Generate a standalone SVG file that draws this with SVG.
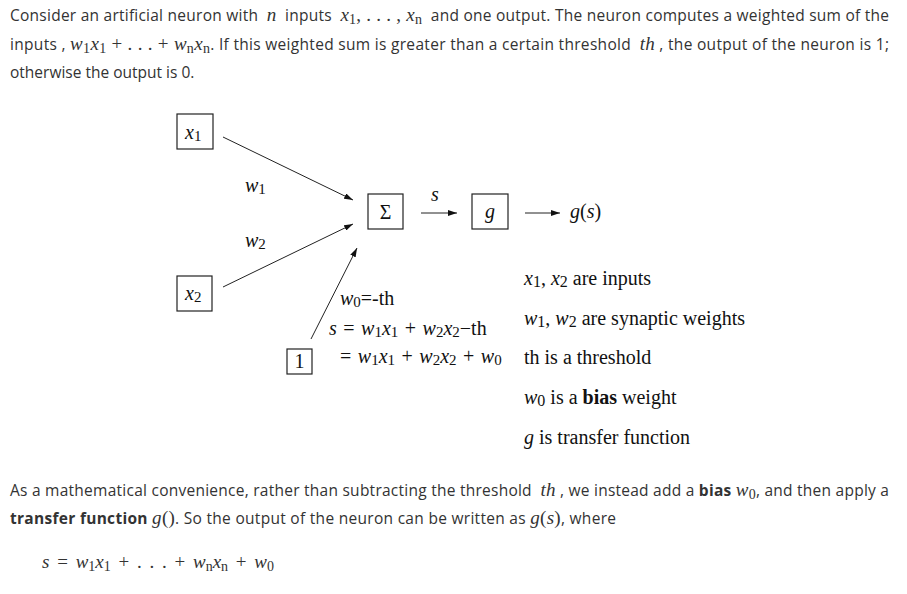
<svg xmlns="http://www.w3.org/2000/svg" width="907" height="594" viewBox="0 0 907 594">
<defs>
<marker id="ah" markerUnits="userSpaceOnUse" markerWidth="9" markerHeight="6" refX="9" refY="3" orient="auto">
<path d="M0,0 L9,3 L0,6 z" fill="#111"/>
</marker>
<style>
.p{font-family:"Open Sans","Liberation Sans",sans-serif;font-size:15.5px;fill:#333}
.m{font-family:"Liberation Serif",serif;font-style:italic;font-size:19px}
.u{font-style:normal}
.d{font-family:"Liberation Serif",serif;font-size:20px;fill:#111}
.i{font-style:italic}
.sb{font-size:14px;font-style:normal}
.s2{font-size:15px}
.box{fill:#fff;stroke:#222;stroke-width:1.2}
.ln{stroke:#222;stroke-width:1;fill:none;marker-end:url(#ah)}
.b{font-weight:bold}
</style>
</defs>
<rect width="907" height="594" fill="#fff"/>

<g id="intro">
<text class="p" x="10" y="21" textLength="879" lengthAdjust="spacing">Consider an artificial neuron with&#160; <tspan class="m">n</tspan>&#160; inputs&#160; <tspan class="m">x<tspan class="sb" dy="3">1</tspan><tspan dy="-3" class="u">, . . . , </tspan>x<tspan class="sb i" dy="3">n</tspan></tspan><tspan dy="-3">&#160; and one output. The neuron computes a weighted sum of the</tspan></text>
<text class="p" x="10" y="50" textLength="879" lengthAdjust="spacing">inputs , <tspan class="m">w<tspan class="sb" dy="3">1</tspan><tspan dy="-3">x</tspan><tspan class="sb" dy="3">1</tspan><tspan dy="-3" class="u"> + . . . + </tspan>w<tspan class="sb i" dy="3">n</tspan><tspan dy="-3">x</tspan><tspan class="sb i" dy="3">n</tspan></tspan><tspan dy="-3">. If this weighted sum is greater than a certain threshold&#160; </tspan><tspan class="m">th</tspan> , the output of the neuron is 1;</text>
<text class="p" x="10" y="78">otherwise the output is 0.</text>
</g>

<g id="connectors">
<line class="ln" x1="223" y1="137" x2="353" y2="200"/>
<line class="ln" x1="223" y1="287" x2="353" y2="224"/>
<line class="ln" x1="311" y1="339" x2="357" y2="248"/>
<line class="ln" x1="421" y1="213" x2="457" y2="213"/>
<line class="ln" x1="525" y1="213" x2="560" y2="213"/>
</g>

<g id="node-x1">
<rect class="box" x="177" y="114" width="36" height="35"/>
<text class="d" x="185" y="139"><tspan class="i">x</tspan><tspan class="s2" dy="2">1</tspan></text>
</g>
<g id="node-x2">
<rect class="box" x="177" y="276" width="35" height="35"/>
<text class="d" x="185" y="300"><tspan class="i">x</tspan><tspan class="s2" dy="2">2</tspan></text>
</g>
<g id="node-sum">
<rect class="box" x="368" y="194" width="35" height="35"/>
<text class="d" x="385.5" y="219" text-anchor="middle">Σ</text>
</g>
<g id="node-g">
<rect class="box" x="472" y="194" width="36" height="35"/>
<text class="d i" x="490" y="218" text-anchor="middle" font-size="21">g</text>
</g>
<g id="node-one">
<rect class="box" x="287" y="349" width="25" height="25"/>
<text class="d" x="299.5" y="368" text-anchor="middle" font-size="19">1</text>
</g>

<g id="labels">
<text class="d" x="245" y="192"><tspan class="i">w</tspan><tspan class="s2" dy="2">1</tspan></text>
<text class="d" x="245" y="247"><tspan class="i">w</tspan><tspan class="s2" dy="2">2</tspan></text>
<text class="d i" x="431" y="201">s</text>
<text class="d" x="570" y="218" font-size="21.5"><tspan class="i">g</tspan>(<tspan class="i">s</tspan>)</text>
<text class="d" x="340" y="305"><tspan class="i">w</tspan><tspan class="s2" dy="2">0</tspan><tspan dy="-2">=-th</tspan></text>
<text class="d" x="329" y="335" word-spacing="1.5"><tspan class="i">s</tspan> = <tspan class="i">w</tspan><tspan class="s2" dy="2">1</tspan><tspan class="i" dy="-2">x</tspan><tspan class="s2" dy="2">1</tspan><tspan dy="-2"> + </tspan><tspan class="i">w</tspan><tspan class="s2" dy="2">2</tspan><tspan class="i" dy="-2">x</tspan><tspan class="s2" dy="2">2</tspan><tspan dy="-2">−th</tspan></text>
<text class="d" x="340" y="363" word-spacing="1.5">= <tspan class="i">w</tspan><tspan class="s2" dy="2">1</tspan><tspan class="i" dy="-2">x</tspan><tspan class="s2" dy="2">1</tspan><tspan dy="-2"> + </tspan><tspan class="i">w</tspan><tspan class="s2" dy="2">2</tspan><tspan class="i" dy="-2">x</tspan><tspan class="s2" dy="2">2</tspan><tspan dy="-2"> + </tspan><tspan class="i">w</tspan><tspan class="s2" dy="2">0</tspan></text>
</g>

<g id="legend">
<text class="d" x="524" y="285" font-size="21"><tspan class="i">x</tspan><tspan font-size="16" dy="2">1</tspan><tspan dy="-2">, </tspan><tspan class="i">x</tspan><tspan font-size="16" dy="2">2</tspan><tspan dy="-2"> are inputs</tspan></text>
<text class="d" x="524" y="325" font-size="21"><tspan class="i">w</tspan><tspan font-size="16" dy="2">1</tspan><tspan dy="-2">, </tspan><tspan class="i">w</tspan><tspan font-size="16" dy="2">2</tspan><tspan dy="-2"> are synaptic weights</tspan></text>
<text class="d" x="524" y="364" font-size="21">th is a threshold</text>
<text class="d" x="524" y="404" font-size="21"><tspan class="i">w</tspan><tspan font-size="16" dy="2">0</tspan><tspan dy="-2"> is a </tspan><tspan class="b">bias</tspan> weight</text>
<text class="d" x="524" y="444" font-size="21"><tspan class="i">g</tspan> is transfer function</text>
</g>

<g id="outro">
<text class="p" x="10" y="496" textLength="879" lengthAdjust="spacing">As a mathematical convenience, rather than subtracting the threshold&#160; <tspan class="m">th</tspan> , we instead add a <tspan class="b">bias</tspan> <tspan class="m">w<tspan class="sb" dy="3">0</tspan></tspan><tspan dy="-3">, and then apply a</tspan></text>
<text class="p" x="10" y="524" textLength="606" lengthAdjust="spacing"><tspan class="b">transfer function</tspan> <tspan class="m">g</tspan><tspan class="m u">()</tspan>. So the output of the neuron can be written as <tspan class="m">g</tspan><tspan class="m u">(</tspan><tspan class="m">s</tspan><tspan class="m u">)</tspan>, where</text>
<text class="p" x="42" y="568"><tspan class="m" word-spacing="3">s<tspan class="u"> = </tspan>w<tspan class="sb" dy="3">1</tspan><tspan dy="-3">x</tspan><tspan class="sb" dy="3">1</tspan><tspan dy="-3" class="u"> + . . . + </tspan>w<tspan class="sb i" dy="3">n</tspan><tspan dy="-3">x</tspan><tspan class="sb i" dy="3">n</tspan><tspan dy="-3" class="u"> + </tspan>w<tspan class="sb" dy="3">0</tspan></tspan></text>
</g>
</svg>
